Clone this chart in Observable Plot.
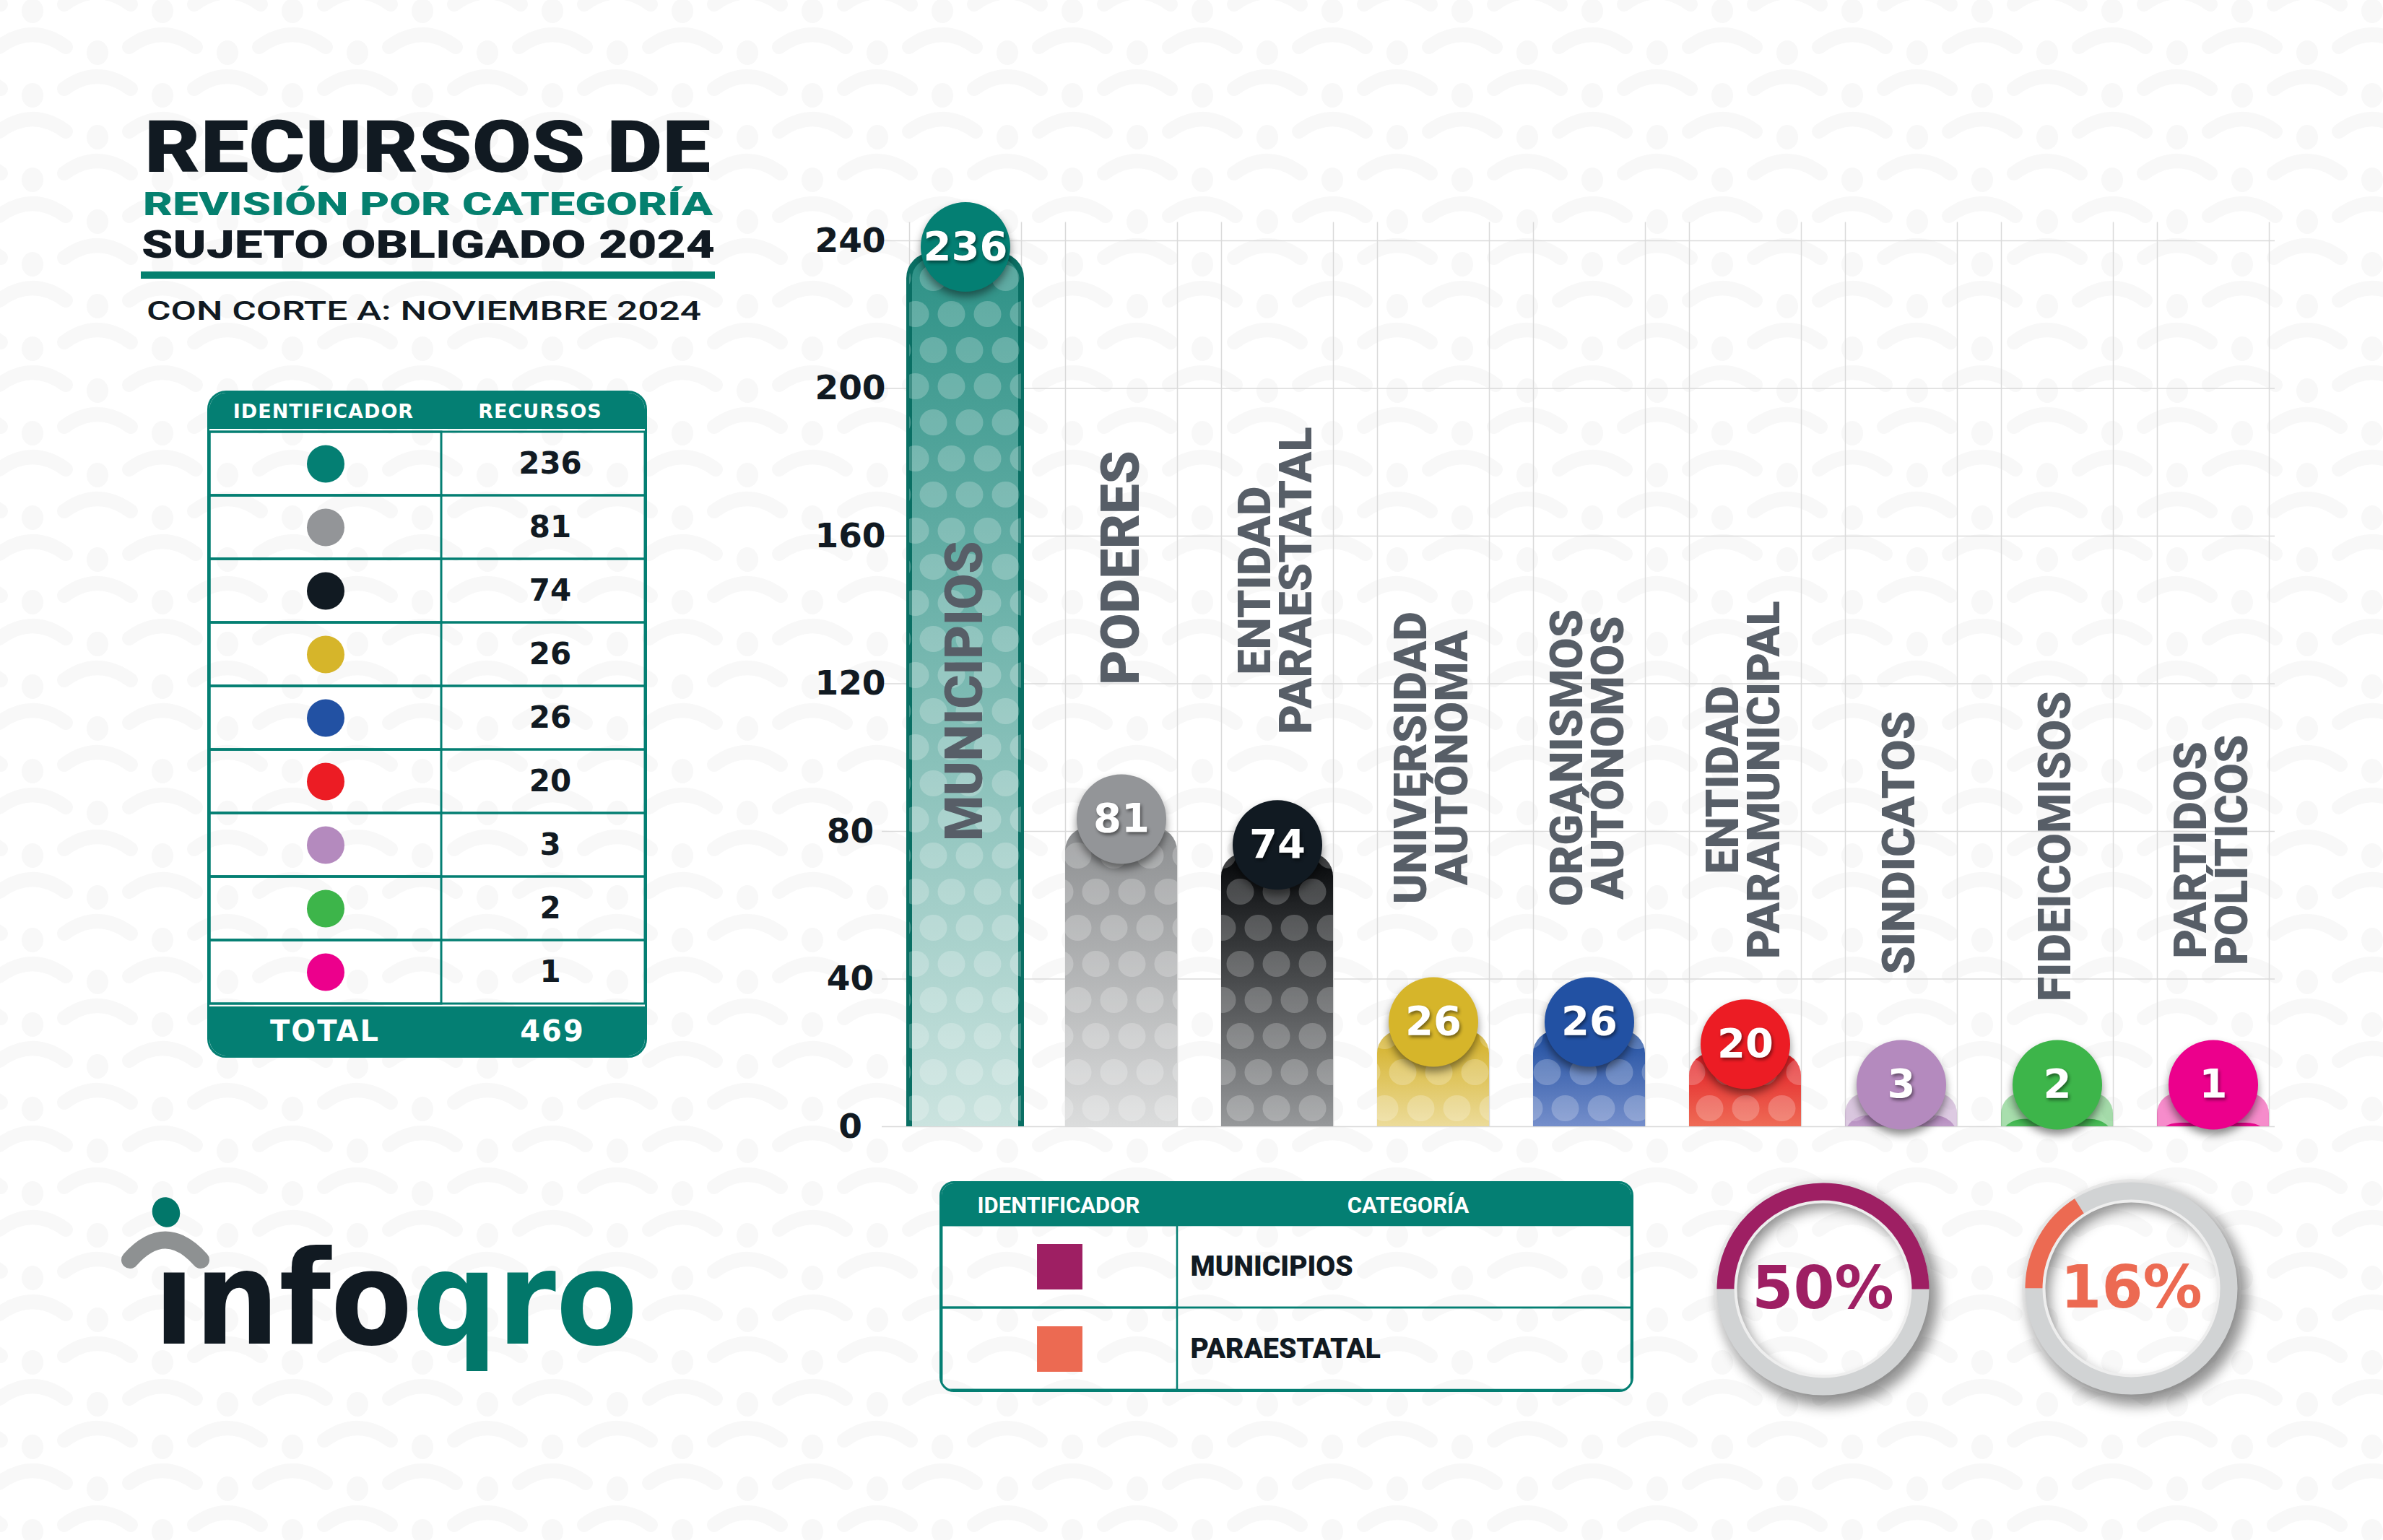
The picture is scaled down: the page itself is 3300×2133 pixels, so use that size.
<!DOCTYPE html>
<html lang="es"><head><meta charset="utf-8">
<script src="https://cdn.jsdelivr.net/npm/d3@7"></script>
<script src="https://cdn.jsdelivr.net/npm/@observablehq/plot@0.6"></script>
<style>
html,body{margin:0;padding:0;background:#fff;}
#page{position:relative;width:3300px;height:2133px;overflow:hidden;background:#fff;}
.abs{position:absolute;}
#deco{position:absolute;left:0;top:0;}
.tbl{position:absolute;box-sizing:border-box;border:3px solid #047f73;overflow:hidden;}
.band{position:absolute;left:0;right:0;background:#047f73;}
.band span{position:absolute;text-align:center;color:#fff;white-space:nowrap;}
#bars g[aria-label="dot"] circle{filter:drop-shadow(0 7px 6px rgba(0,0,0,.45));}
#bars g[aria-label="text"][fill="white"] text{filter:drop-shadow(2px 3px 2px rgba(0,0,0,.45));}
#bars g[aria-label="y-axis tick label"] text{font-weight:bold;}
.ring g[stroke="#d1d3d4"] circle,.ring g[stroke="#ececec"] circle{filter:drop-shadow(8px 10px 9px rgba(0,0,0,.45));}
</style></head>
<body><div id="page"></div>
<script>
// ---------------- data ----------------
const categories = ["MUNICIPIOS","PODERES","ENTIDAD PARAESTATAL","UNIVERSIDAD AUTÓNOMA","ORGANISMOS AUTÓNOMOS","ENTIDAD PARAMUNICIPAL","SINDICATOS","FIDEICOMISOS","PARTIDOS POLÍTICOS"];
const labelText = ["MUNICIPIOS","PODERES","ENTIDAD\nPARAESTATAL","UNIVERSIDAD\nAUTÓNOMA","ORGANISMOS\nAUTÓNOMOS","ENTIDAD\nPARAMUNICIPAL","SINDICATOS","FIDEICOMISOS","PARTIDOS\nPOLÍTICOS"];
const values = [236, 81, 74, 26, 26, 20, 3, 2, 1];
const yTicks = [0, 40, 80, 120, 160, 200, 240];
const tableColumns = ["IDENTIFICADOR", "RECURSOS"];
const legendColumns = ["IDENTIFICADOR", "CATEGORÍA"];
const highlightNames = ["MUNICIPIOS", "PARAESTATAL"];
const highlightCategories = ["MUNICIPIOS", "ENTIDAD PARAESTATAL"];

// ---------------- styles ----------------
const palette = ["#047f73","#939598","#111a22","#d6b52a","#2251a3","#ec1c24","#b48abe","#3db54a","#ec008c"];
const gradientStops = [["#2d9186","#d0e6e2"],["#8c8e90","#e3e4e4"],["#050709","#a6a8aa"],["#d2ae22","#f4e9bd"],["#1f4ea0","#8fa2d8"],["#e31d24","#f38a6a"],["#b48abe","#dac6e0"],["#3ab449","#a6dcac"],["#e8008a","#f59ccd"]];
const highlightPalette = ["#9e1f63", "#ec6a52"];
const TEAL = "#047f73", INK = "#111a22", LABEL = "#575e67";

const rows = categories.map((category, i) => ({category, label: labelText[i], value: values[i], i}));
const total = d3.sum(values);
const page = document.getElementById("page");

function place(node, left, top, id, cls) {
  const d = document.createElement("div");
  d.className = "abs" + (cls ? " " + cls : "");
  if (id) d.id = id;
  d.style.left = left + "px"; d.style.top = top + "px";
  d.appendChild(node); page.appendChild(d); return d;
}

// ---------------- background, title, logo ----------------
const deco = `
<svg id="deco" width="3300" height="2133" xmlns="http://www.w3.org/2000/svg">
 <defs>
  <g id="person" fill="#f8f8f8">
    <ellipse cx="0" cy="0" rx="15" ry="17"/>
    <path d="M-46,50 Q0,16 46,50" fill="none" stroke="#f8f8f8" stroke-width="20" stroke-linecap="round"/>
  </g>
  <pattern id="bgp" width="180" height="117" patternUnits="userSpaceOnUse">
    <use href="#person" x="45" y="15"/><use href="#person" x="45" y="132"/><use href="#person" x="225" y="15"/><use href="#person" x="-135" y="15"/>
    <use href="#person" x="135" y="73"/><use href="#person" x="135" y="-44"/><use href="#person" x="-45" y="73"/><use href="#person" x="-45" y="-44"/>
  </pattern>
 </defs>
 <rect width="3300" height="2133" fill="url(#bgp)"/>
 <g font-family="Roboto, 'DejaVu Sans', sans-serif">
  <text x="200" y="238" font-weight="900" font-size="100" fill="${INK}" textLength="784" lengthAdjust="spacingAndGlyphs">RECURSOS DE</text>
  <text x="198" y="298" font-weight="900" font-size="44" fill="#05806f" textLength="789" lengthAdjust="spacingAndGlyphs">REVISIÓN POR CATEGORÍA</text>
  <text x="196" y="357" font-weight="900" font-size="54" fill="${INK}" textLength="794" lengthAdjust="spacingAndGlyphs">SUJETO OBLIGADO 2024</text>
  <rect x="195" y="376" width="795" height="10" fill="#05806f"/>
  <text x="203" y="443" font-weight="500" font-size="37" fill="${INK}" textLength="768" lengthAdjust="spacingAndGlyphs">CON CORTE A: NOVIEMBRE 2024</text>
 </g>
 <g>
  <ellipse cx="230" cy="1679" rx="19" ry="21" transform="rotate(-20 230 1679)" fill="#02776a"/>
  <path d="M180,1745 Q229,1690 278,1745" stroke="#8e9192" stroke-width="24" fill="none" stroke-linecap="round"/>
  <text x="213" y="1861" font-family="'DejaVu Sans', sans-serif" font-weight="bold" font-size="180" textLength="670" lengthAdjust="spacingAndGlyphs"><tspan fill="${INK}">ınfo</tspan><tspan fill="#02776a">qro</tspan></text>
 </g>
</svg>`;
page.insertAdjacentHTML("beforeend", deco);

// ---------------- bar chart ----------------
function defsMark() {
  const g = d3.create("svg:g");
  const df = g.append("defs");
  gradientStops.forEach(([a, b], i) => {
    const lg = df.append("linearGradient").attr("id", "grad" + i).attr("x1", 0).attr("y1", 0).attr("x2", 0).attr("y2", 1);
    lg.append("stop").attr("offset", 0).attr("stop-color", a);
    lg.append("stop").attr("offset", 1).attr("stop-color", b);
  });
  const pat = df.append("pattern").attr("id", "bubbles").attr("patternUnits", "userSpaceOnUse").attr("width", 50).attr("height", 100);
  [[12.5, 25], [62.5, 25], [37.5, 75], [-12.5, 75]].forEach(([cx, cy]) => pat.append("ellipse").attr("cx", cx).attr("cy", cy).attr("rx", 19).attr("ry", 18).attr("fill", "#fff").attr("fill-opacity", 0.22));
  return g.node();
}

const bubbleY = d => Math.max(d.value, 9);
const fitsInside = d => d.value > 200;
const LABEL_FONT = "Roboto";

const barChart = Plot.plot({
  width: 2130, height: 1340,
  marginLeft: 116, marginRight: 6, marginTop: 73, marginBottom: 40,
  x: {type: "band", domain: categories, padding: 0.283, axis: null},
  y: {domain: [0, 240]},
  color: {type: "identity"},
  style: {background: "transparent", maxWidth: "none", overflow: "visible", fontFamily: "DejaVu Sans", fontWeight: "bold"},
  marks: [
    defsMark,
    Plot.ruleY(yTicks, {stroke: "#dadada", strokeWidth: 1.5, insetLeft: 25, insetRight: 54}),
    Plot.ruleX(categories, {x: d => d, y1: 0, y2: 245, dx: -77.5, stroke: "#dadada", strokeWidth: 1.5}),
    Plot.ruleX(categories, {x: d => d, y1: 0, y2: 245, dx: 77.5, stroke: "#dadada", strokeWidth: 1.5}),
    Plot.axisY(yTicks, {tickSize: 0, tickPadding: 0, textAnchor: "middle", dx: -19, fontSize: 47, fontWeight: "bold", fontFamily: "DejaVu Sans", fill: INK, label: null}),
    Plot.barY(rows.filter(d => d.value < 9), {x: "category", y1: 0, y2: bubbleY, fill: d => palette[d.i], fillOpacity: 0.45, rx: 28, insetBottom: -40, clip: true}),
    ...rows.flatMap(r => [
      Plot.barY([r], {x: "category", y: "value", fill: `url(#grad${r.i})`, rx: 32, insetBottom: -40, clip: true,
        ...(fitsInside(r) ? {stroke: "#0a6f64", strokeWidth: 8} : {})}),
      Plot.barY([r], {x: "category", y: "value", fill: "url(#bubbles)", rx: 32, insetBottom: -40, clip: true})
    ]),
    Plot.text(rows.filter(fitsInside), {x: "category", y: d => d.value / 2, text: "label", rotate: -90, fontSize: 72, fontWeight: 900, fontFamily: LABEL_FONT, fill: LABEL}),
    Plot.text(rows.filter(d => !fitsInside(d) && d.value > 78), {x: "category", y: "value", dy: -360, text: "label", rotate: -90, fontSize: 74, fontWeight: 900, fontFamily: LABEL_FONT, fill: LABEL}),
    Plot.text(rows.filter(d => d.value <= 78), {x: "category", y: "value", dy: -378, text: "label", rotate: -90, lineHeight: 0.9, fontSize: 63, fontWeight: 900, fontFamily: LABEL_FONT, fill: LABEL}),
    Plot.dot(rows, {x: "category", y: bubbleY, dy: -12, r: 62, fill: d => palette[d.i]}),
    Plot.text(rows, {x: "category", y: bubbleY, dy: -12, text: d => String(d.value), fill: "white", fontSize: 56, fontWeight: "bold", fontFamily: "DejaVu Sans"})
  ]
});
place(barChart, 1080, 260, "bars");

// ---------------- left table ----------------
function makeTable(left, top, w, h, radius) {
  const t = document.createElement("div");
  t.className = "tbl";
  Object.assign(t.style, {left: left + "px", top: top + "px", width: w + "px", height: h + "px", borderRadius: radius + "px"});
  page.appendChild(t);
  return t;
}
function band(parent, top, height, items, font, shift) {
  const b = document.createElement("div");
  b.className = "band";
  b.style.top = top + "px"; b.style.height = height + "px";
  items.forEach(([txt, l, w]) => {
    const s = document.createElement("span");
    s.textContent = txt;
    Object.assign(s.style, {left: l + "px", top: shift + "px", width: w + "px", lineHeight: height + "px", font: font.font, letterSpacing: font.ls || "0px"});
    b.appendChild(s);
  });
  parent.appendChild(b);
}

const t1 = makeTable(287, 541, 609, 924, 26);
band(t1, 0, 50, [[tableColumns[0], 0, 316], [tableColumns[1], 316, 284]], {font: "bold 27px 'DejaVu Sans'", ls: "1px"}, 10);
const tablePlot = Plot.plot({
  width: 603, height: 800, margin: 0,
  x: {type: "band", domain: tableColumns, range: [0, 642], padding: 0, axis: null},
  y: {type: "band", domain: categories, padding: 0, axis: null},
  color: {type: "identity"},
  style: {background: "transparent", maxWidth: "none"},
  marks: [
    Plot.cell(rows, {y: "category", stroke: TEAL, strokeWidth: 3, fill: "none"}),
    Plot.cell(rows, {x: () => tableColumns[0], y: "category", stroke: TEAL, strokeWidth: 3, fill: "none"}),
    Plot.dot(rows, {x: () => tableColumns[0], y: "category", r: 26, fill: d => palette[d.i]}),
    Plot.text(rows, {x: () => tableColumns[1], y: "category", text: d => String(d.value), dx: -10, fontSize: 42, fontWeight: "bold", fontFamily: "DejaVu Sans", fill: INK})
  ]
});
const tb = document.createElement("div");
tb.className = "abs"; tb.style.left = "0px"; tb.style.top = "50px";
tb.appendChild(tablePlot); t1.appendChild(tb);
band(t1, 850, 68, [["TOTAL", 0, 320], [String(total), 316, 318]], {font: "bold 40px 'DejaVu Sans'", ls: "2px"}, 11);

// ---------------- bottom legend table ----------------
const legendRows = highlightNames.map((name, k) => ({name, color: highlightPalette[k]}));
const t2 = makeTable(1301, 1636, 961, 292, 20);
band(t2, 0, 58, [[legendColumns[0], 0, 324], [legendColumns[1], 490, 312]], {font: "bold 31px Roboto"}, 12);
const legendPlot = Plot.plot({
  width: 955, height: 228, margin: 0,
  x: {type: "band", domain: legendColumns, range: [0, 652], padding: 0, axis: null},
  y: {type: "band", domain: highlightNames, padding: 0, axis: null},
  color: {type: "identity"},
  style: {background: "transparent", maxWidth: "none"},
  marks: [
    Plot.cell(legendRows, {y: "name", stroke: TEAL, strokeWidth: 2.5, fill: "none"}),
    Plot.cell(legendRows, {x: () => legendColumns[0], y: "name", stroke: TEAL, strokeWidth: 2.5, fill: "none"}),
    Plot.dot(legendRows, {x: () => legendColumns[0], y: "name", symbol: "square", r: 35.5, fill: "color"}),
    Plot.text(legendRows, {x: () => legendColumns[1], y: "name", text: "name", textAnchor: "start", dx: -145, fontSize: 39, fontWeight: 900, fontFamily: "Roboto", fill: INK})
  ]
});
const lb = document.createElement("div");
lb.className = "abs"; lb.style.left = "0px"; lb.style.top = "58px";
lb.appendChild(legendPlot); t2.appendChild(lb);

// ---------------- rings ----------------
function ringPlot(k) {
  const cat = highlightCategories[k];
  const value = values[categories.indexOf(cat)];
  const pct = Math.round(value / total * 100);
  const R = 134.5, C = 2 * Math.PI * R;
  const datum = [{cat, pct}];
  const common = {x: "cat", y: "cat", fill: "none"};
  return Plot.plot({
    width: 340, height: 340, margin: 0,
    x: {type: "band", domain: [cat], range: [0, 340], axis: null},
    y: {type: "band", domain: [cat], range: [0, 340], axis: null},
    style: {background: "transparent", maxWidth: "none", overflow: "visible"},
    marks: [
      Plot.dot(datum, {...common, r: 149, stroke: "#ececec", strokeWidth: 5}),
      Plot.dot(datum, {...common, r: R, stroke: "#d1d3d4", strokeWidth: 25}),
      Plot.dot(datum, {...common, r: R, stroke: highlightPalette[k], strokeWidth: 25, strokeDasharray: `${pct / 100 * C} ${C}`, strokeDashoffset: -C / 2}),
      Plot.dot(datum, {...common, r: 121, stroke: "#eeeeee", strokeWidth: 4}),
      Plot.text(datum, {x: "cat", y: "cat", text: d => d.pct + "%", fontSize: 82, fontWeight: "bold", fontFamily: "DejaVu Sans", fill: highlightPalette[k]})
    ]
  });
}
place(ringPlot(0), 2354, 1615, null, "ring");
place(ringPlot(1), 2781, 1614, null, "ring");
</script>
</body></html>
